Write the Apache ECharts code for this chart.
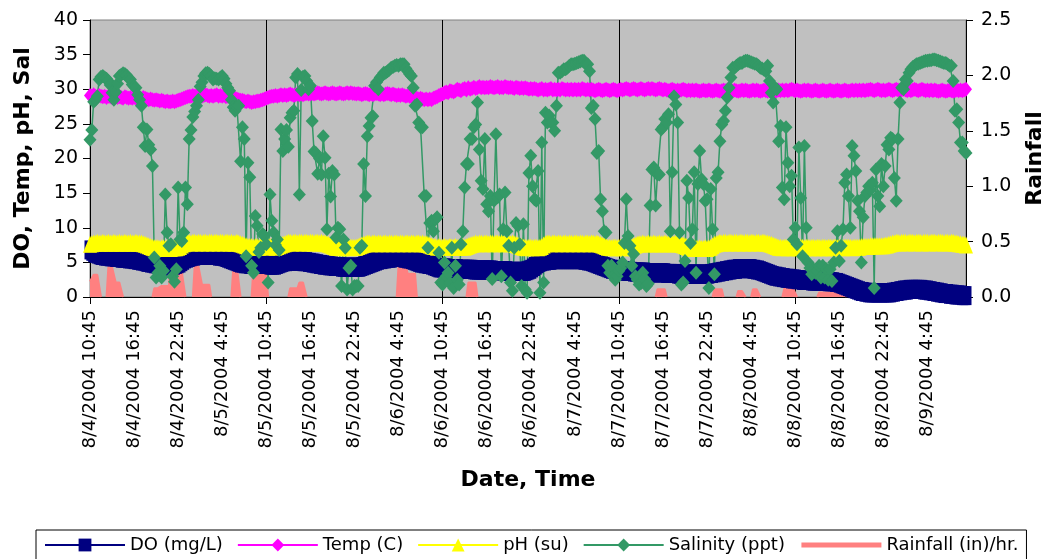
<!DOCTYPE html>
<html><head><meta charset="utf-8">
<script src="https://cdn.jsdelivr.net/npm/echarts@6/dist/echarts.min.js"></script>
<style>html,body{margin:0;padding:0;background:#fff}#c{width:1054px;height:559px}</style>
</head><body><div id="c"></div>
<script>
// Tick labels shown on the category axis (every 6 hours)
const tickLabels = ["8/4/2004 10:45","8/4/2004 16:45","8/4/2004 22:45","8/5/2004 4:45","8/5/2004 10:45","8/5/2004 16:45","8/5/2004 22:45","8/6/2004 4:45","8/6/2004 10:45","8/6/2004 16:45","8/6/2004 22:45","8/7/2004 4:45","8/7/2004 10:45","8/7/2004 16:45","8/7/2004 22:45","8/8/2004 4:45","8/8/2004 10:45","8/8/2004 16:45","8/8/2004 22:45","8/9/2004 4:45"];

// 15-minute readings, starting 8/4/2004 10:45 (one row = 6 hours)
const doVals = [
6.8,6.6,6.4,6.3,6.2,6.1,6.0,6.0,5.9,5.9,5.9,5.8,5.8,5.8,5.7,5.7,5.7,5.6,5.6,5.6,5.6,5.5,5.5,5.5,
5.4,5.4,5.3,5.3,5.2,5.2,5.1,5.0,5.0,4.9,4.9,4.8,4.8,4.7,4.7,4.6,4.6,4.6,4.5,4.5,4.5,4.6,4.6,4.7,
4.8,4.9,5.1,5.3,5.5,5.6,5.7,5.8,5.9,5.9,6.0,6.0,6.0,6.0,6.1,6.1,6.1,6.0,6.0,6.0,6.0,6.0,5.9,5.9,
5.9,5.8,5.7,5.6,5.5,5.4,5.3,5.2,5.1,5.0,4.9,4.9,4.8,4.8,4.8,4.7,4.7,4.7,4.7,4.7,4.7,4.7,4.7,4.7,
4.7,4.7,4.6,4.6,4.6,4.6,4.7,4.8,4.9,5.0,5.1,5.1,5.2,5.2,5.2,5.2,5.2,5.2,5.2,5.2,5.1,5.1,5.1,5.0,
5.0,4.9,4.9,4.8,4.8,4.7,4.7,4.6,4.6,4.6,4.5,4.5,4.5,4.4,4.4,4.4,4.4,4.3,4.3,4.3,4.3,4.3,4.3,4.3,
4.3,4.3,4.3,4.3,4.4,4.5,4.6,4.7,4.8,4.9,5.0,5.1,5.2,5.3,5.4,5.4,5.5,5.5,5.6,5.6,5.6,5.7,5.7,5.7,
5.7,5.7,5.7,5.6,5.6,5.5,5.5,5.4,5.3,5.2,5.1,5.0,4.9,4.9,4.8,4.8,4.7,4.7,4.6,4.5,4.4,4.3,4.2,4.2,
4.2,4.2,4.2,4.1,4.1,4.1,4.1,4.1,4.1,4.0,4.0,4.0,4.0,4.0,4.0,4.0,4.0,3.9,3.9,3.9,3.9,3.9,3.9,3.9,
3.9,3.9,3.9,3.9,3.8,3.8,3.8,3.8,3.8,3.8,3.8,3.8,3.7,3.7,3.7,3.7,3.7,3.7,3.7,3.7,3.7,3.7,3.8,3.9,
4.0,4.2,4.4,4.6,4.8,5.0,5.1,5.2,5.2,5.3,5.3,5.3,5.4,5.4,5.4,5.4,5.4,5.4,5.4,5.4,5.4,5.4,5.4,5.4,
5.4,5.4,5.4,5.4,5.4,5.3,5.3,5.2,5.2,5.1,5.0,4.9,4.8,4.7,4.6,4.5,4.4,4.3,4.2,4.1,4.0,4.0,3.9,3.9,
3.9,3.8,3.8,3.8,3.7,3.7,3.7,3.7,3.6,3.6,3.6,3.6,3.6,3.6,3.6,3.5,3.5,3.5,3.5,3.5,3.5,3.5,3.5,3.5,
3.5,3.5,3.4,3.4,3.4,3.4,3.4,3.4,3.3,3.3,3.3,3.3,3.3,3.3,3.3,3.3,3.3,3.3,3.3,3.3,3.3,3.3,3.3,3.3,
3.3,3.3,3.4,3.4,3.5,3.5,3.6,3.6,3.7,3.7,3.8,3.8,3.9,3.9,4.0,4.0,4.0,4.1,4.1,4.1,4.1,4.1,4.1,4.1,
4.1,4.0,4.0,3.9,3.9,3.8,3.7,3.6,3.5,3.4,3.3,3.2,3.1,3.0,3.0,2.9,2.9,2.8,2.8,2.7,2.7,2.7,2.6,2.6,
2.6,2.5,2.5,2.5,2.4,2.4,2.4,2.4,2.4,2.3,2.3,2.3,2.3,2.3,2.3,2.3,2.3,2.3,2.2,2.2,2.2,2.2,2.1,2.1,
2.0,1.9,1.8,1.7,1.6,1.5,1.4,1.3,1.2,1.1,1.0,0.9,0.8,0.8,0.7,0.7,0.6,0.6,0.6,0.6,0.6,0.6,0.6,0.6,
0.6,0.6,0.6,0.6,0.6,0.7,0.7,0.8,0.8,0.9,0.9,1.0,1.0,1.0,1.1,1.1,1.1,1.1,1.1,1.1,1.1,1.1,1.0,1.0,
1.0,0.9,0.9,0.8,0.8,0.7,0.7,0.6,0.6,0.5,0.5,0.5,0.4,0.4,0.4,0.3,0.3,0.3,0.3,0.2,0.2,0.2
];
const tempVals = [
29.1,29.0,29.2,29.0,28.9,29.1,29.0,28.9,29.0,28.8,29.0,28.9,28.8,29.0,28.9,28.8,28.9,28.8,28.7,28.9,28.8,28.7,28.8,28.7,
28.8,28.7,28.8,28.7,28.6,28.8,28.7,28.6,28.5,28.6,28.5,28.4,28.5,28.4,28.3,28.4,28.3,28.2,28.3,28.2,28.2,28.3,28.2,28.3,
28.4,28.5,28.6,28.7,28.8,28.9,29.0,29.0,29.1,29.0,29.1,29.2,29.1,29.0,29.1,29.2,29.1,29.0,29.1,29.0,29.1,29.2,29.0,29.1,
29.0,29.1,28.9,29.0,28.9,28.8,28.8,28.7,28.6,28.5,28.4,28.4,28.3,28.2,28.3,28.2,28.1,28.2,28.2,28.3,28.3,28.4,28.5,28.6,
28.7,28.8,28.9,29.0,29.0,29.1,29.0,29.1,29.2,29.1,29.2,29.1,29.2,29.3,29.2,29.1,29.2,29.3,29.2,29.3,29.2,29.3,29.4,29.3,
29.3,29.4,29.3,29.4,29.5,29.4,29.3,29.4,29.5,29.4,29.3,29.4,29.5,29.4,29.3,29.4,29.5,29.4,29.3,29.4,29.5,29.4,29.5,29.4,
29.4,29.3,29.4,29.3,29.2,29.3,29.4,29.3,29.2,29.3,29.2,29.3,29.4,29.3,29.2,29.3,29.2,29.3,29.4,29.3,29.2,29.3,29.2,29.1,
29.2,29.1,29.2,29.1,29.0,29.1,29.0,28.9,28.8,28.9,28.7,28.6,28.7,28.6,28.5,28.6,28.5,28.6,28.5,28.7,28.8,28.9,29.1,29.2,
29.3,29.5,29.6,29.5,29.8,29.7,29.6,29.8,30.0,29.9,29.8,30.0,30.1,29.9,30.2,30.0,30.1,30.3,30.1,30.2,30.4,30.2,30.3,30.2,
30.3,30.2,30.4,30.3,30.2,30.3,30.4,30.2,30.3,30.2,30.4,30.3,30.2,30.3,30.2,30.1,30.3,30.2,30.1,30.2,30.1,30.2,30.1,30.0,
30.1,30.0,30.1,30.0,29.9,30.0,30.1,29.9,30.0,29.9,30.0,30.1,29.9,30.0,29.9,30.0,29.9,30.1,30.0,29.9,30.0,29.9,30.0,29.9,
30.0,29.9,30.0,29.9,30.1,30.0,29.9,30.0,29.9,30.0,29.9,29.8,29.9,30.0,29.9,29.8,29.9,30.0,29.9,29.8,29.9,30.0,29.9,29.8,
29.9,30.0,29.9,30.0,30.1,30.0,29.9,30.0,30.1,30.0,29.9,30.0,30.1,30.0,29.9,30.0,30.1,30.0,30.1,30.0,29.9,30.0,30.1,30.0,
29.9,30.0,29.9,29.8,29.9,30.0,29.9,29.8,29.9,29.8,29.9,30.0,29.9,29.8,29.9,29.8,29.9,29.8,29.9,29.8,29.7,29.8,29.9,29.8,
29.8,29.9,29.8,29.7,29.8,29.9,29.8,29.7,29.8,29.9,29.8,29.9,29.8,29.7,29.8,29.9,29.8,29.7,29.8,29.9,29.8,29.9,29.8,29.7,
29.8,29.9,29.8,29.9,29.8,29.7,29.8,29.9,29.8,29.7,29.8,29.9,29.8,29.7,29.8,29.9,29.8,29.9,29.8,29.9,29.8,29.9,30.0,29.9,
29.8,29.9,29.8,29.7,29.8,29.9,29.8,29.9,29.8,29.7,29.8,29.9,29.8,29.7,29.8,29.9,29.8,29.7,29.8,29.9,29.8,29.7,29.8,29.9,
29.8,29.7,29.8,29.9,29.8,29.7,29.8,29.9,29.8,29.9,29.8,29.9,29.8,29.9,29.8,29.9,29.9,30.0,29.9,29.8,29.9,30.0,29.9,29.8,
29.9,29.8,29.9,30.0,29.9,29.8,29.9,30.0,29.9,29.8,29.9,30.0,29.9,29.8,29.9,29.8,29.9,30.0,29.9,29.8,29.9,30.0,29.9,29.8,
29.9,29.8,29.9,29.8,29.9,29.8,29.7,29.8,29.9,29.8,29.7,29.8,29.9,29.8,29.7,29.8,29.9,29.8,29.9,29.8,29.9,30.0
];
const phVals = [
7.6,7.7,7.8,7.8,7.9,7.8,7.8,7.9,7.8,7.8,7.9,7.8,7.8,7.9,7.8,7.8,7.9,7.8,7.8,7.9,7.8,7.8,7.9,7.8,
7.8,7.9,7.8,7.8,7.8,7.7,7.6,7.5,7.4,7.3,7.2,7.1,7.1,7.1,7.0,7.1,7.1,7.0,7.1,7.1,7.0,7.1,7.1,7.1,
7.2,7.3,7.5,7.7,7.8,7.9,7.9,7.8,7.9,7.9,7.8,7.9,7.9,7.8,7.9,7.9,7.8,7.9,7.9,7.8,7.9,7.9,7.8,7.9,
7.9,7.8,7.9,7.9,7.8,7.9,7.8,7.8,7.9,7.8,7.7,7.6,7.5,7.4,7.3,7.3,7.3,7.2,7.3,7.3,7.2,7.3,7.3,7.3,
7.3,7.2,7.3,7.3,7.3,7.2,7.3,7.4,7.5,7.6,7.7,7.8,7.9,7.9,7.8,7.9,7.9,7.8,7.9,7.9,7.8,7.9,7.9,7.8,
7.9,7.9,7.8,7.9,7.9,7.8,7.9,7.8,7.8,7.7,7.6,7.5,7.4,7.3,7.2,7.2,7.2,7.1,7.2,7.2,7.2,7.1,7.2,7.2,
7.2,7.2,7.3,7.4,7.5,7.6,7.7,7.8,7.8,7.7,7.8,7.8,7.7,7.8,7.8,7.7,7.8,7.8,7.7,7.8,7.8,7.7,7.8,7.8,
7.7,7.8,7.8,7.7,7.8,7.8,7.7,7.8,7.8,7.7,7.8,7.8,7.7,7.8,7.7,7.7,7.6,7.5,7.4,7.3,7.3,7.2,7.3,7.2,
7.2,7.3,7.2,7.2,7.3,7.2,7.2,7.3,7.2,7.2,7.2,7.3,7.2,7.3,7.4,7.5,7.6,7.7,7.8,7.7,7.8,7.8,7.7,7.8,
7.8,7.7,7.8,7.8,7.7,7.8,7.8,7.7,7.8,7.8,7.7,7.8,7.8,7.7,7.8,7.7,7.6,7.5,7.4,7.3,7.2,7.2,7.1,7.2,
7.2,7.1,7.2,7.2,7.1,7.2,7.3,7.5,7.7,7.8,7.8,7.7,7.8,7.8,7.7,7.8,7.8,7.7,7.8,7.8,7.7,7.8,7.8,7.7,
7.8,7.8,7.7,7.8,7.8,7.7,7.8,7.8,7.7,7.8,7.8,7.7,7.8,7.7,7.6,7.5,7.4,7.3,7.2,7.2,7.1,7.2,7.2,7.1,
7.2,7.2,7.1,7.2,7.2,7.1,7.2,7.3,7.4,7.5,7.6,7.7,7.7,7.8,7.7,7.7,7.8,7.7,7.7,7.8,7.7,7.7,7.8,7.7,
7.7,7.8,7.7,7.7,7.8,7.7,7.7,7.8,7.7,7.7,7.6,7.5,7.4,7.3,7.2,7.1,7.0,7.1,7.0,7.0,7.1,7.0,7.0,7.1,
7.0,7.1,7.2,7.4,7.6,7.7,7.8,7.9,7.8,7.9,7.9,7.8,7.9,7.9,7.8,7.9,7.9,7.8,7.9,7.9,7.8,7.9,7.9,7.8,
7.9,7.9,7.8,7.9,7.9,7.8,7.9,7.9,7.8,7.8,7.7,7.6,7.5,7.4,7.3,7.2,7.2,7.1,7.2,7.2,7.1,7.2,7.2,7.1,
7.2,7.2,7.1,7.2,7.2,7.1,7.2,7.2,7.1,7.2,7.2,7.1,7.2,7.2,7.1,7.2,7.2,7.1,7.2,7.2,7.1,7.2,7.2,7.1,
7.2,7.2,7.1,7.2,7.2,7.2,7.2,7.1,7.2,7.2,7.2,7.2,7.3,7.3,7.3,7.3,7.3,7.4,7.4,7.4,7.4,7.4,7.4,7.4,
7.4,7.5,7.5,7.6,7.7,7.8,7.8,7.9,7.9,7.8,7.9,7.9,7.9,7.8,7.9,7.9,7.9,7.8,7.9,7.9,7.9,7.8,7.9,7.9,
7.9,7.8,7.9,7.9,7.9,7.8,7.9,7.9,7.9,7.8,7.9,7.9,7.8,7.9,7.9,7.8,7.8,7.7,7.7,7.6,7.6,7.5
];
const salVals = [
22.7,24.1,28.2,28.5,29.0,31.4,31.8,31.9,31.7,31.5,31.2,30.6,29.5,28.5,29.6,30.8,31.9,32.1,32.3,32.2,32.0,31.6,31.4,30.7,
30.4,30.2,29.2,28.5,27.6,24.5,21.8,24.2,22.0,21.3,18.9,5.7,2.8,3.5,4.5,2.8,3.8,14.8,9.3,7.4,7.6,3.0,2.2,4.0,
15.8,8.3,8.1,9.3,15.8,13.4,22.8,24.1,26.0,26.8,27.6,28.5,30.4,31.0,31.9,32.3,32.4,32.2,31.9,31.4,31.6,31.5,31.4,31.7,
31.9,31.5,30.8,30.2,29.8,28.5,27.4,26.9,27.5,27.6,19.6,24.5,22.8,5.9,19.4,17.3,4.5,3.5,11.7,10.3,6.5,7.1,9.1,8.8,
7.6,2.1,14.8,11.0,9.3,7.5,8.3,6.8,24.2,21.1,22.8,24.1,21.7,25.9,26.6,26.9,31.7,32.2,14.8,29.9,31.8,31.9,31.2,30.0,
30.5,25.4,21.0,20.8,17.8,20.0,17.7,23.2,20.1,9.8,17.8,14.5,18.2,17.7,8.6,10.0,9.8,1.6,8.3,7.1,1.1,4.2,4.5,1.1,
1.6,1.6,1.6,7.1,7.4,19.2,14.6,23.2,24.7,25.9,26.1,30.5,31.0,30.0,31.7,32.0,32.4,32.4,32.6,32.8,33.1,33.2,33.4,33.5,
33.4,33.6,33.6,33.6,33.0,32.6,32.2,31.9,30.2,27.6,27.8,25.2,24.5,24.5,14.6,14.6,7.1,10.7,11.0,9.5,11.2,11.5,6.4,2.1,
1.8,5.0,3.0,3.5,2.0,7.1,1.3,4.5,2.5,1.8,7.6,9.5,15.8,19.2,19.2,22.8,22.8,24.5,24.9,28.1,21.3,16.8,15.6,22.8,
13.4,12.4,14.6,2.6,13.9,23.5,14.4,14.8,3.0,9.8,15.1,9.5,7.4,2.1,0.9,7.1,10.7,10.3,7.6,1.6,10.5,1.1,0.6,17.9,
20.4,16.0,14.1,13.9,18.2,0.6,22.3,2.1,26.6,25.2,26.2,25.2,25.2,24.0,27.6,32.4,32.4,32.6,32.9,32.9,33.1,33.4,33.6,33.6,
33.7,33.8,33.9,34.0,34.1,34.1,33.6,33.6,32.6,27.3,27.6,25.7,20.8,21.1,14.1,12.4,9.5,9.3,4.5,3.5,4.5,3.0,2.5,3.0,
3.8,4.2,5.0,7.8,14.1,8.8,7.4,4.5,6.2,3.0,2.5,1.8,2.0,3.5,2.6,1.6,1.9,13.2,18.4,18.7,13.2,17.7,17.7,24.2,
24.5,25.7,25.2,26.4,9.5,18.0,29.0,27.8,25.2,9.3,1.8,2.1,5.2,16.8,14.3,7.8,9.8,18.0,3.5,16.3,21.1,17.0,16.3,13.9,
14.1,1.3,15.6,9.8,3.3,17.2,18.0,22.5,24.9,25.4,26.9,28.8,30.2,31.7,33.1,33.1,33.4,33.6,33.8,33.8,34.0,34.1,34.1,34.0,
33.9,33.8,33.7,33.6,33.4,33.1,33.0,32.8,32.6,33.4,31.2,29.5,28.1,30.2,30.0,22.5,24.7,15.8,14.1,24.5,19.4,16.0,17.5,8.3,
10.0,7.6,21.6,14.3,5.9,21.8,10.0,5.0,4.2,3.3,4.0,3.5,3.8,4.5,2.8,4.5,2.8,4.0,2.5,4.0,2.3,5.0,7.1,9.5,
5.2,7.4,9.8,16.5,17.7,14.6,10.0,21.8,20.4,18.2,13.9,12.4,5.0,11.5,14.6,15.1,16.0,15.5,16.5,1.3,18.4,14.6,13.1,19.2,
16.0,18.9,22.0,21.3,23.0,22.8,17.2,13.9,22.8,28.1,30.2,30.0,31.4,31.2,32.4,32.9,33.2,33.4,33.6,33.7,33.8,33.9,34.0,34.1,
34.1,34.2,34.2,34.3,34.3,34.2,34.1,34.0,33.9,33.8,33.8,33.6,33.4,33.4,31.2,26.9,27.1,25.2,22.3,22.3,21.1,20.8
];
const rainVals = [
0.14,0.14,0.2,0.2,0.2,0.2,0,0,0,0,0.27,0.27,0.27,0.27,0.13,0.13,0.13,0.13,0,0,0,0,0,0,
0,0,0,0,0,0,0,0,0,0,0,0.08,0.08,0.08,0.08,0.1,0.1,0.1,0.1,0.1,0.42,0.42,0.42,0.42,
0.225,0.225,0.225,0.225,0,0,0,0,0,0.28,0.28,0.28,0.28,0.11,0.11,0.11,0.11,0.11,0,0,0,0,0,0,
0,0,0,0,0,0,0.26,0.26,0.26,0.26,0,0,0,0,0,0,0,0.265,0.265,0.265,0.265,0.36,0.36,0.36,
0.36,0,0,0,0,0,0,0,0,0,0,0,0,0.08,0.08,0.08,0.08,0.08,0.13,0.13,0.13,0.13,0,0,
0,0,0,0,0,0,0,0,0,0,0,0,0,0,0,0,0,0,0,0,0,0,0,0,
0,0,0,0,0,0,0,0,0,0,0,0,0,0,0,0,0,0,0,0,0,0,0,0,
0.28,0.28,0.28,0.28,0.28,0.21,0.21,0.21,0.21,0.21,0,0,0,0,0,0,0,0,0,0,0,0,0,0,
0,0,0,0,0,0,0,0,0,0,0,0,0,0,0.13,0.13,0.13,0.13,0.13,0,0,0,0,0,
0,0,0,0,0,0,0,0,0,0,0,0,0,0,0,0,0,0,0,0,0,0,0,0,
0,0,0,0,0,0,0,0,0,0,0,0,0,0,0,0,0,0,0,0,0,0,0,0,
0,0,0,0,0,0,0,0,0,0,0,0,0,0,0,0,0,0,0,0,0,0,0,0,
0,0,0,0,0,0,0,0,0,0,0,0,0,0,0,0,0,0,0,0,0,0.07,0.07,0.07,
0.07,0.07,0,0,0,0,0,0,0,0,0,0,0,0,0,0,0,0,0,0,0,0,0,0,
0,0,0,0,0.07,0.07,0.07,0.07,0.07,0,0,0,0,0,0,0,0,0.055,0.055,0.055,0.055,0,0,0,
0,0.07,0.07,0.07,0.07,0,0,0,0,0,0,0,0,0,0,0,0,0,0.07,0.12,0.13,0.13,0.12,0.07,
0.07,0,0,0,0,0,0,0,0,0,0,0,0,0.04,0.04,0.04,0.04,0.04,0.04,0.04,0.08,0.08,0.08,0.08,
0.08,0.08,0.08,0.08,0,0,0,0,0,0.06,0.06,0.06,0.06,0.06,0.06,0.06,0.06,0.06,0.06,0,0,0,0,0,
0,0,0,0,0,0,0,0,0,0,0,0,0,0,0,0,0,0,0,0,0,0,0,0,
0,0,0,0,0,0,0,0,0.05,0.1,0.1,0.1,0.1,0.1,0.05,0.05,0.05,0.05,0,0,0,0
];

const N = salVals.length;
const t0 = Date.UTC(2004, 7, 4, 10, 45);
const categories = [];
for (let i = 0; i < N; i++) {
  const d = new Date(t0 + i * 15 * 60000);
  categories.push((d.getUTCMonth() + 1) + '/' + d.getUTCDate() + '/' + d.getUTCFullYear() + ' ' +
    d.getUTCHours() + ':' + String(d.getUTCMinutes()).padStart(2, '0'));
}
// rainfall: hide long runs of zero so no line sits on the axis
const rainShown = rainVals.map((v, i) =>
  (v > 0 || rainVals[i - 1] > 0 || rainVals[i + 1] > 0) ? v : null);

const FONT = 'DejaVu Sans';
const chart = echarts.init(document.getElementById('c'), null, {renderer: 'canvas'});
chart.setOption({
  animation: false,
  backgroundColor: '#ffffff',
  grid: {left: 90, right: 83, top: 20, bottom: 262, show: true,
         backgroundColor: '#C0C0C0', borderColor: '#808080', borderWidth: 1},
  legend: {
    left: 36, top: 530, itemWidth: 80, itemHeight: 16, itemGap: 14,
    padding: [6, 8, 6, 8], borderColor: '#000', borderWidth: 1,
    textStyle: {fontFamily: FONT, fontSize: 18, color: '#000'},
    data: ['DO (mg/L)', 'Temp (C)', 'pH (su)', 'Salinity (ppt)',
           {name: 'Rainfall (in)/hr.', itemStyle: {opacity: 0}, lineStyle: {width: 5, opacity: 1}}]
  },
  xAxis: {
    type: 'category', data: categories, boundaryGap: false,
    name: 'Date, Time', nameLocation: 'middle', nameGap: 172,
    nameTextStyle: {fontFamily: FONT, fontWeight: 'bold', fontSize: 22, color: '#000'},
    axisLine: {lineStyle: {color: '#000', width: 1}},
    axisTick: {interval: 95, length: 7, lineStyle: {color: '#000'}},
    axisLabel: {interval: 23, rotate: 90, margin: 13, color: '#000',
                fontFamily: FONT, fontSize: 18,
                formatter: (v, idx) => tickLabels[idx / 24] !== undefined ? tickLabels[idx / 24] : v},
    splitLine: {show: true, interval: 95, lineStyle: {color: '#000', width: 1}}
  },
  yAxis: [{
    type: 'value', min: 0, max: 40, interval: 5,
    name: 'DO, Temp, pH, Sal', nameLocation: 'middle', nameGap: 56,
    nameTextStyle: {fontFamily: FONT, fontWeight: 'bold', fontSize: 22, color: '#000'},
    axisLine: {show: true, lineStyle: {color: '#000'}},
    axisTick: {show: true, length: 7, lineStyle: {color: '#000'}},
    axisLabel: {margin: 12, color: '#000', fontFamily: FONT, fontSize: 19},
    splitLine: {show: false}
  }, {
    type: 'value', min: 0, max: 2.5, interval: 0.5, position: 'right',
    name: 'Rainfall', nameLocation: 'middle', nameGap: 58,
    nameTextStyle: {fontFamily: FONT, fontWeight: 'bold', fontSize: 22, color: '#000'},
    axisLine: {show: true, lineStyle: {color: '#000'}},
    axisTick: {show: true, length: 7, lineStyle: {color: '#000'}},
    axisLabel: {margin: 15, color: '#000', fontFamily: FONT, fontSize: 19,
                formatter: v => v.toFixed(1)},
    splitLine: {show: false}
  }],
  series: [
    {name: 'DO (mg/L)', type: 'line', data: doVals, symbol: 'rect', symbolSize: [11, 19],
     showAllSymbol: true, itemStyle: {color: '#000080'}, lineStyle: {color: '#000080', width: 2}},
    {name: 'Temp (C)', type: 'line', data: tempVals, symbol: 'diamond', symbolSize: [12, 15],
     showAllSymbol: true, itemStyle: {color: '#FF00FF'}, lineStyle: {color: '#FF00FF', width: 2}},
    {name: 'pH (su)', type: 'line', data: phVals, symbol: 'triangle', symbolSize: [14, 17],
     showAllSymbol: true, itemStyle: {color: '#FFFF00'}, lineStyle: {color: '#FFFF00', width: 2}},
    {name: 'Salinity (ppt)', type: 'line', data: salVals, symbol: 'diamond', symbolSize: [13, 14],
     showAllSymbol: true, itemStyle: {color: '#339966'}, lineStyle: {color: '#339966', width: 1.5}},
    {name: 'Rainfall (in)/hr.', type: 'line', yAxisIndex: 1, data: rainShown, symbol: 'none',
     connectNulls: false, itemStyle: {color: '#FF8080'}, lineStyle: {color: '#FF8080', width: 2},
     areaStyle: {color: '#FF8080', opacity: 1}}
  ]
});
</script></body></html>
